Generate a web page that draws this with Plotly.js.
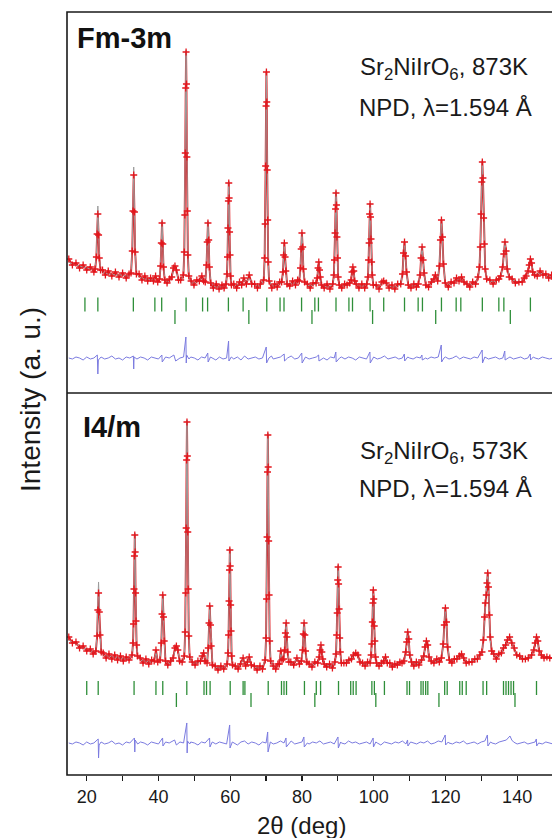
<!DOCTYPE html>
<html>
<head>
<meta charset="utf-8">
<script src="https://cdn.plot.ly/plotly-3.0.1.min.js"></script>
<style>html,body{margin:0;padding:0;overflow:hidden;background:#fff;}#chart{width:560px;height:838px;}</style>
</head>
<body>
<div id="chart"></div>
<script>
// ---------- Fm-3m, 873 K (upper panel) ----------
const fmX = [
15,16,17,18,19,20,21,22,
22.35,22.7,22.9,23.1,23.3,23.5,23.85,
24.4,25.2,26,27,28,29,30,31,31.8,
32.35,32.7,32.9,33.1,33.3,33.5,33.85,
34.6,35.4,36.2,37,37.8,38.6,39.2,39.8,
40.3,40.6,40.8,41.0,41.2,41.4,41.75,
42.4,43.1,43.7,44.2,44.6,45.0,45.6,46.2,
46.95,47.2,47.35,47.48,47.6,47.7,47.8,47.92,48.05,48.2,48.45,
49.1,49.9,50.7,51.4,52.1,52.6,
53.05,53.4,53.6,53.8,54.0,54.2,54.55,
55.3,56.1,56.9,57.7,58.3,
58.85,59.1,59.25,59.38,59.5,59.6,59.7,59.82,59.95,60.1,60.35,
61,61.8,62.6,63.2,63.8,64.5,65.3,66,66.8,67.6,68.4,
69.35,69.6,69.75,69.88,70.0,70.1,70.2,70.32,70.45,70.6,70.85,
71.6,72.4,73.1,73.8,
74.35,74.7,74.9,75.1,75.3,75.5,75.85,
76.6,77.4,78.2,78.8,
79.25,79.6,79.8,80.0,80.2,80.4,80.75,
81.5,82.3,83.1,
83.95,84.3,84.5,84.7,84.9,85.1,85.45,
86.2,87,87.8,
88.6,88.9,89.08,89.24,89.38,89.5,89.62,89.76,89.92,90.1,90.4,
91.1,91.9,92.6,
93.3,93.72,93.96,94.2,94.44,94.68,95.1,
95.9,96.7,97.5,
98.1,98.4,98.58,98.74,98.88,99.0,99.12,99.26,99.42,99.6,99.9,
100.7,101.5,102.3,102.8,103.5,104.3,105.1,105.9,106.7,
107.55,108.04,108.32,108.6,108.88,109.16,109.65,
110.4,111.2,111.9,
112.45,112.94,113.22,113.5,113.78,114.06,114.55,
115.3,116.1,116.8,117.2,
117.85,118.34,118.62,118.9,119.18,119.46,119.95,
120.8,121.6,122.4,123.1,123.8,124.5,125.2,126,126.8,127.6,128.4,
129.1,129.5,129.74,129.95,130.14,130.3,130.46,130.65,130.86,131.1,131.5,
132.4,133.3,134.2,134.9,
135.4,135.96,136.28,136.6,136.92,137.24,137.8,
138.6,139.5,140.5,141.4,142.0,
142.5,143.06,143.38,143.7,144.02,144.34,144.9,
145.6,146.4,147.2,148,148.8,149.6,150.3
];
const fmObs = [
134,128,130,125,128,123,126,121,
124,136,159,179,158,135,123,
123,118,122,117,121,116,120,115,119,
120,142,182,218,181,141,119,
119,113,117,112,115,112,117,111,
114,127,150,170,149,126,113,
110,114,116,125,127,123,113,113,
118,141,178,240,305,341,309,236,182,138,117,
112,108,113,112,117,112,
111,128,151,170,153,126,110,
105,109,104,108,105,
109,119,136,165,192,210,195,161,138,117,108,
109,105,111,108,115,109,118,109,109,105,109,
113,135,169,227,287,321,291,223,173,131,112,
105,109,106,111,
111,121,138,150,136,122,109,
107,112,108,113,
112,125,144,160,146,124,111,
109,105,110,
110,115,125,131,123,116,108,
105,109,104,
109,118,133,160,184,200,188,156,135,116,108,
105,109,108,
110,113,121,126,122,112,109,
105,109,105,
109,116,133,150,179,189,176,154,131,118,108,
108,104,111,112,110,105,108,104,109,
109,119,140,151,137,121,108,
105,109,106,
109,118,135,146,133,120,108,
106,111,114,118,
112,127,153,173,156,129,110,
106,111,110,115,112,116,111,109,106,111,109,
116,126,146,179,211,231,215,175,149,124,114,
113,109,113,114,
117,126,139,151,142,124,116,
114,110,111,111,115,
117,122,128,134,130,121,118,
117,122,118,119,115,118,114
];
const fmCalc = [
131,129,128,127,126,125,124,123,
124,138,164,187,164,138,123,
121,120,119,119,118,118,118,117,117,
120,144,188,226,188,144,119,
116,115,114,114,113,113,115,113,
114,128,152,172,152,128,113,
111,112,116,123,126,121,114,112,
118,139,180,238,307,343,307,238,180,139,118,
110,110,111,113,115,113,
111,127,152,172,152,127,111,
107,106,106,106,106,
109,118,137,163,194,212,194,163,137,118,109,
107,108,109,110,113,111,115,111,108,107,107,
113,133,171,225,289,323,289,225,171,133,113,
107,107,108,109,
110,121,137,151,137,121,110,
109,110,110,110,
112,125,145,161,145,125,111,
108,107,108,
109,115,124,131,124,115,109,
107,106,106,
109,117,134,158,186,202,186,158,134,117,109,
107,107,108,
109,113,121,126,121,113,109,
107,107,107,
109,117,132,152,177,190,177,152,132,117,109,
106,106,110,112,109,107,106,106,107,
108,120,138,152,138,120,108,
107,107,108,
109,119,134,147,134,119,109,
107,109,113,116,
112,128,154,174,154,128,111,
108,109,111,113,114,114,112,109,108,109,110,
115,125,147,177,213,233,213,177,147,125,115,
112,111,112,114,
116,125,140,152,140,125,116,
113,112,111,112,114,
117,121,129,134,129,121,118,
119,120,119,118,117,116,115
];
const fmDiffX = [
15,16,17,18,19,20,21,22,22.95,23.1,23.25,24,25,26,27,28,29,30,31,32,33.0,33.1,33.2,34,35,36,37,38,39,40,40.95,41.05,
42,43,44.3,44.8,46,47,47.65,47.75,47.85,48.5,49,50,51,52,53,53.75,53.85,54.5,55,56,57,58,59,59.55,59.65,60.3,
61,62,63,64,65,66,67,68,69,70.05,70.15,70.8,71.5,72,73,74,75.05,75.15,76,77,78,79,79.95,80.05,81,82,83,84,84.65,84.75,
86,87,88,89,89.45,89.55,90.5,91,92,93,94,95,96,97,98,98.95,99.05,100,101,102,103,104,105,106,107,108,108.55,108.65,
109.5,110,111,112,113,113.45,113.55,114.5,115,116,117,118,118.85,118.95,119.6,120,121,122,123,124,125,126,127,128,129,
130.25,130.35,131,132,133,134,135,136,136.55,136.65,137.5,138,139,140,141,142,143,143.65,143.75,144.5,145,146,147,148,149,150
];
const fmDiff = [
35,34,36,35,33,36,34,35,38,19,33,36,34,35,37,34,35,33,36,35,37,24,36,34,36,35,33,36,35,34,38,31,
36,35,38,32,35,36,56,30,38,34,36,35,33,36,35,40,31,36,35,33,36,34,35,52,32,36,
34,36,33,37,34,35,36,34,35,46,30,35,37,34,35,36,39,32,35,37,34,35,40,30,36,34,35,36,38,32,
35,33,36,35,41,31,35,36,34,36,35,33,36,35,34,41,30,36,34,35,37,34,35,36,34,35,39,32,
36,35,34,36,35,38,33,35,34,36,35,36,48,31,35,36,34,35,37,34,36,35,34,36,35,
43,30,36,34,35,36,34,35,42,33,35,36,34,35,36,34,35,39,33,36,35,34,36,35,34,35
];
const fmBraggMain = [19.5,23.1,33.0,39.0,40.9,47.7,52.3,53.7,59.5,63.6,70.2,73.9,75.0,79.9,83.6,84.6,89.5,93.1,94.1,99.0,102.8,108.6,112.4,113.6,118.9,123.0,124.3,130.3,134.9,136.3,143.7];
const fmBraggSecond = [44.6,65.2,82.8,99.7,117.3,138.1];

// ---------- I4/m, 573 K (lower panel) ----------
const i4X = [
15,16,17,18,19,20,21,21.8,
22.55,22.9,23.1,23.3,23.5,23.7,24.05,
24.6,25.4,26.2,27,27.8,28.6,29.4,30.2,31,31.8,
32.65,32.9,33.05,33.18,33.3,33.4,33.5,33.62,33.75,33.9,34.15,
34.9,35.7,36.5,37.3,38.1,38.8,39.3,39.8,
40.45,40.8,41.0,41.2,41.4,41.6,41.95,
42.6,43.4,44.1,44.6,45.0,45.4,45.9,46.6,
47.2,47.45,47.6,47.73,47.85,47.95,48.05,48.17,48.3,48.45,48.7,
49.4,50.2,51,51.7,52.2,52.6,53.0,
53.55,53.9,54.1,54.3,54.5,54.7,55.05,
55.8,56.6,57.4,58.2,
59.15,59.4,59.55,59.68,59.8,59.9,60.0,60.12,60.25,60.4,60.65,
61.4,62.2,62.9,63.6,64.3,64.8,65.3,65.9,66.7,67.5,68.3,69.0,
69.75,70.0,70.15,70.28,70.4,70.5,70.6,70.72,70.85,71.0,71.25,
72.0,72.7,73.3,73.7,74.1,74.45,
74.85,75.2,75.4,75.6,75.8,76.0,76.35,
76.9,77.7,78.6,79.3,
79.85,80.2,80.4,80.6,80.8,81.0,81.35,
82.0,82.8,83.6,
84.4,84.82,85.06,85.3,85.54,85.78,86.2,
86.9,87.7,88.5,
89.2,89.5,89.68,89.84,89.98,90.1,90.22,90.36,90.52,90.7,91.0,
91.7,92.4,93.1,93.8,94.4,95.0,95.6,96.2,96.9,97.6,98.3,
99.0,99.3,99.48,99.64,99.78,99.9,100.02,100.16,100.32,100.5,100.8,
101.5,102.2,102.8,103.3,103.8,104.5,105.2,105.9,106.6,107.3,107.9,
108.45,108.94,109.22,109.5,109.78,110.06,110.55,
111.2,111.9,112.6,
113.35,113.98,114.34,114.7,115.06,115.42,116.05,
116.8,117.6,118.3,
118.9,119.4,119.7,120.0,120.3,120.6,121.1,
121.8,122.5,123.2,123.9,124.5,125.1,125.8,126.6,127.4,128.2,128.9,129.6,
130.2,130.6,130.9,131.15,131.4,131.6,131.8,132.0,132.25,132.5,132.9,
133.5,134.2,134.9,135.6,136.2,136.8,
137.3,137.9,138.5,
139.2,139.9,140.7,141.5,142.3,143.1,
144.05,144.68,145.04,145.4,145.76,146.12,146.75,
147.5,148.3,149.1,150.0
];
const i4Obs = [
138,132,133,127,129,124,126,121,
124,139,165,182,163,140,123,
122,117,121,116,120,115,119,114,118,115,
120,132,151,186,219,240,223,182,154,130,119,
117,112,116,111,115,114,125,113,
115,132,161,180,158,134,114,
110,114,117,127,129,125,114,113,
119,143,182,247,315,353,319,243,186,139,118,
113,110,114,114,119,122,114,
112,127,152,169,150,129,110,
109,105,109,106,
111,122,140,174,205,225,209,170,144,119,110,
109,106,111,117,109,113,118,110,109,105,109,106,
115,137,176,238,303,340,308,234,180,134,114,
109,106,111,111,124,115,
116,125,142,152,138,123,113,
113,110,117,111,
114,125,141,152,140,124,113,
111,108,113,
112,118,125,130,123,116,111,
108,111,107,
113,121,140,162,195,208,191,166,137,123,112,
112,112,115,116,120,122,120,113,112,109,113,
112,120,131,153,172,185,176,149,134,118,112,
109,112,114,118,112,112,108,111,110,113,112,
114,123,133,143,136,120,113,
109,113,110,
115,119,128,134,130,118,114,
112,116,113,
117,131,150,167,153,128,115,
112,116,116,119,121,117,112,113,113,116,116,120,
123,135,158,172,180,192,202,188,160,138,124,
121,116,121,122,127,130,
135,138,132,
127,120,119,116,116,117,
120,125,132,138,134,124,120,
117,118,117,117
];
const i4Calc = [
135,133,131,129,127,126,124,123,
124,143,172,193,172,143,123,
120,119,119,118,118,117,117,116,116,116,
120,131,153,184,221,242,221,184,153,131,120,
115,114,114,113,113,114,123,114,
115,133,160,181,160,133,115,
111,112,117,125,128,124,116,112,
119,141,184,245,317,355,317,245,184,141,119,
112,112,112,114,118,121,116,
112,128,151,170,151,128,111,
108,107,107,107,
111,121,142,172,207,227,207,172,142,121,111,
108,108,110,116,111,112,117,111,108,107,107,108,
115,136,178,236,305,342,305,236,178,136,115,
108,108,109,112,122,116,
116,124,140,153,140,124,113,
112,112,116,112,
113,124,140,153,140,124,113,
110,110,111,
112,117,124,130,124,117,112,
110,109,109,
113,122,139,164,193,210,193,164,139,122,113,
111,112,114,116,119,121,118,114,111,111,111,
112,119,132,151,174,186,174,151,132,119,112,
110,111,114,117,114,111,110,110,111,112,113,
113,121,134,144,134,121,113,
111,111,112,
114,119,128,135,128,119,114,
113,114,115,
116,130,151,168,151,130,116,
114,115,116,118,120,117,114,113,114,115,117,119,
122,134,156,170,182,194,204,190,158,136,123,
120,118,119,122,126,130,
134,138,133,
125,121,119,117,116,117,
120,124,132,139,132,124,120,
119,118,117,116
];
const i4DiffX = [
15,16,17,18,19,20,21,22,23.2,23.3,23.45,24,25,26,27,28,29,30,31,32,33.3,33.4,33.5,34.2,35,36,37,38,39,40,41.15,41.25,
42,43,44.5,45,46,47,47.9,48.0,48.1,48.7,49,50,51,52,53,54.25,54.35,55,56,57,58,59,59.85,59.95,60.6,
61,62,63,64,65,66,67,68,69,70,70.45,70.55,71.2,72,73,74,75,75.55,75.65,76.5,77,78,79,80,80.55,80.65,81.5,
82,83,84,85,86,87,88,89,90.05,90.15,90.8,91,92,93,94,95,96,97,98,99,99.85,99.95,100.6,101,102,103,104,105,106,107,108,109,109.45,109.55,
110.3,111,112,113,114,115,116,117,118,119,119.95,120.05,120.8,121,122,123,124,125,126,127,128,129,130,131,131.7,131.85,
132.6,133,134,135,136,137,137.5,138,138.5,139,140,141,142,143,144,145,145.35,145.45,146,147,148,149,150
];
const i4Diff = [
32,31,33,32,30,33,31,32,36,17,30,33,31,32,34,31,32,30,33,32,37,23,35,31,33,32,30,33,32,31,37,29,
33,32,35,30,33,32,52,22,34,31,33,32,30,33,32,37,28,33,31,33,32,31,50,27,33,
32,30,33,34,31,33,32,30,33,32,43,23,33,31,32,34,32,37,28,32,34,31,32,33,38,28,32,
31,33,32,34,31,32,33,31,38,27,33,32,31,34,32,33,31,32,33,31,37,28,33,32,30,33,32,31,33,32,34,31,35,29,
33,32,31,33,32,34,31,32,34,33,40,30,33,32,31,33,32,34,31,32,33,31,33,34,40,29,
33,32,31,33,34,35,37,39,35,33,31,32,33,31,32,33,36,29,32,31,33,32,31
];
const i4BraggMain = [20.0,23.2,33.2,39.3,41.2,47.9,52.7,53.4,54.4,60.0,63.6,64.1,70.6,74.3,75.0,75.7,80.7,84.0,85.2,90.2,93.6,94.3,95.1,99.5,100.2,103.0,109.3,110.0,113.2,113.8,114.5,115.1,119.8,120.5,124.0,124.7,125.8,130.5,131.5,136.2,136.9,137.6,138.3,139.0,145.4];
const i4BraggSecond = [45.0,65.8,83.6,100.6,118.2,139.4];

const xTicks = [20,40,60,80,100,120,140];

// ---------- styling ----------
const RED = '#e3161c', GRAY = '#9c9c9c', BLUE = '#7b7be0', GREEN = '#2f8f3a';
const FONT = 'Liberation Sans, Arial, Helvetica, sans-serif';
const SPLIT = 0.50066;

function panel(x, obs, calc, dx, diff, b1, b2, yax, row1, row2) {
  return [
    {x: x, y: obs, xaxis: 'x', yaxis: yax, type: 'scatter', mode: 'lines',
     line: {color: RED, width: 1.9}, hoverinfo: 'skip'},
    {x: x, y: calc, xaxis: 'x', yaxis: yax, type: 'scatter', mode: 'lines',
     line: {color: GRAY, width: 1}, hoverinfo: 'skip'},
    {x: x, y: obs, xaxis: 'x', yaxis: yax, type: 'scatter', mode: 'markers',
     marker: {symbol: 'cross-thin-open', size: 5, color: RED, line: {color: RED, width: 1.3}}, hoverinfo: 'skip'},
    {x: dx, y: diff, xaxis: 'x', yaxis: yax, type: 'scatter', mode: 'lines',
     line: {color: BLUE, width: 1}, hoverinfo: 'skip'},
    {x: b1, y: b1.map(() => row1), xaxis: 'x', yaxis: yax, type: 'scatter', mode: 'markers',
     marker: {symbol: 'line-ns-open', size: 10, color: GREEN, line: {color: GREEN, width: 1.3}}, hoverinfo: 'skip'},
    {x: b2, y: b2.map(() => row2), xaxis: 'x', yaxis: yax, type: 'scatter', mode: 'markers',
     marker: {symbol: 'line-ns-open', size: 10, color: GREEN, line: {color: GREEN, width: 1.3}}, hoverinfo: 'skip'}
  ];
}

const data = [].concat(
  panel(fmX, fmObs, fmCalc, fmDiffX, fmDiff, fmBraggMain, fmBraggSecond, 'y', 88.5, 76),
  panel(i4X, i4Obs, i4Calc, i4DiffX, i4Diff, i4BraggMain, i4BraggSecond, 'y2', 87, 75)
);

// pixel helpers (plot area: x 67..553, y 12..775)
const px = p => (p - 67) / 486;
const py = p => (775 - p) / 763;

const layout = {
  width: 560, height: 838,
  margin: {l: 67, r: 7, t: 12, b: 63},
  paper_bgcolor: '#fff', plot_bgcolor: '#fff',
  showlegend: false,
  font: {family: FONT, color: '#1a1a1a'},
  xaxis: {
    range: [14.5, 150], anchor: 'y2', showgrid: false, zeroline: false, showline: false,
    tickvals: xTicks, ticks: 'outside', ticklen: 5, tickwidth: 1.2, tickcolor: '#1a1a1a',
    tickfont: {size: 18, family: FONT, color: '#1a1a1a'},
    minor: {dtick: 10, tick0: 0, ticks: 'outside', ticklen: 5, tickwidth: 1.2, tickcolor: '#1a1a1a', showgrid: false}
  },
  yaxis: {domain: [SPLIT, 1], range: [0, 381], visible: false, fixedrange: true},
  yaxis2: {domain: [0, SPLIT], range: [0, 382], visible: false, fixedrange: true},
  shapes: [
    {type: 'rect', xref: 'paper', yref: 'paper', x0: 0, x1: 1, y0: 0, y1: 1, line: {color: '#1a1a1a', width: 1.6}},
    {type: 'line', xref: 'paper', yref: 'paper', x0: 0, x1: 1, y0: SPLIT, y1: SPLIT, line: {color: '#1a1a1a', width: 1.6}}
  ],
  annotations: [
    {text: '<b>Fm-3m</b>', xref: 'paper', yref: 'paper', x: px(75), y: py(37.5), xanchor: 'left', yanchor: 'middle', showarrow: false, font: {size: 29, family: FONT, color: '#111'}},
    {text: '<b>I4/m</b>', xref: 'paper', yref: 'paper', x: px(81), y: py(427.5), xanchor: 'left', yanchor: 'middle', showarrow: false, font: {size: 29, family: FONT, color: '#111'}},
    {text: 'Sr<sub>2</sub>NiIrO<sub>6</sub>, 873K', xref: 'paper', yref: 'paper', x: px(444), y: py(68), xanchor: 'center', yanchor: 'middle', showarrow: false, font: {size: 24, family: FONT, color: '#1a1a1a'}},
    {text: 'NPD, λ=1.594 Å', xref: 'paper', yref: 'paper', x: px(445), y: py(107), xanchor: 'center', yanchor: 'middle', showarrow: false, font: {size: 24, family: FONT, color: '#1a1a1a'}},
    {text: 'Sr<sub>2</sub>NiIrO<sub>6</sub>, 573K', xref: 'paper', yref: 'paper', x: px(444), y: py(452), xanchor: 'center', yanchor: 'middle', showarrow: false, font: {size: 24, family: FONT, color: '#1a1a1a'}},
    {text: 'NPD, λ=1.594 Å', xref: 'paper', yref: 'paper', x: px(445), y: py(488), xanchor: 'center', yanchor: 'middle', showarrow: false, font: {size: 24, family: FONT, color: '#1a1a1a'}},
    {text: 'Intensity (a. u.)', xref: 'paper', yref: 'paper', x: px(31), y: py(400), xanchor: 'center', yanchor: 'middle', textangle: -90, showarrow: false, font: {size: 28, family: FONT, color: '#1a1a1a'}},
    {text: '2θ (deg)', xref: 'paper', yref: 'paper', x: px(301), y: py(826), xanchor: 'center', yanchor: 'middle', showarrow: false, font: {size: 24, family: FONT, color: '#1a1a1a'}}
  ]
};

Plotly.newPlot('chart', data, layout, {staticPlot: true, displayModeBar: false});
</script>
</body>
</html>
